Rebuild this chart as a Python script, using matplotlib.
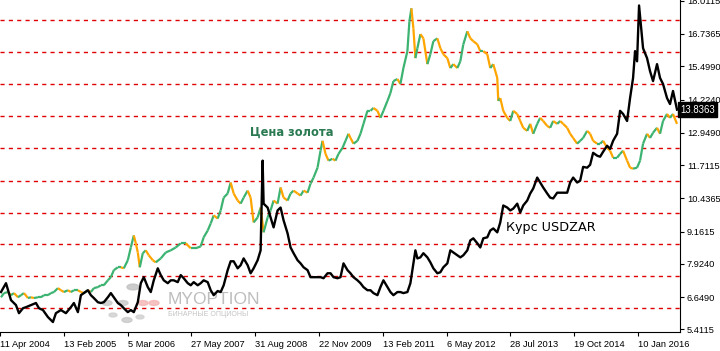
import numpy as np
import matplotlib
matplotlib.use('Agg')
import matplotlib.pyplot as plt
from matplotlib.collections import LineCollection

# Недельные бары: номер бара по оси X
usd_x = [0, 5, 10, 15, 18, 22, 25, 30, 35, 38, 42, 47, 52, 55, 60, 65, 70, 73, 77, 80,
         83, 87, 90, 93, 97, 100, 103, 107, 110, 113, 117, 120, 123, 127, 130, 133, 137, 140, 143, 147,
         150, 153, 157, 160, 163, 167, 170, 173, 177, 180, 183, 187, 190, 193, 197, 200, 203, 207, 210, 213,
         217, 220, 223, 227, 230, 233, 237, 240, 243, 247, 250, 253, 257, 260, 262, 263, 267, 270, 273, 277,
         280, 283, 287, 290, 293, 297, 300, 303, 307, 310, 313, 317, 320, 323, 327, 330, 333, 337, 340, 343,
         347, 350, 353, 357, 360, 363, 367, 370, 373, 377, 380, 383, 387, 390, 393, 397, 400, 403, 407, 410,
         413, 415, 417, 420, 423, 427, 430, 433, 437, 440, 443, 447, 450, 453, 457, 460, 463, 467, 470, 473,
         477, 480, 483, 487, 490, 493, 497, 500, 503, 507, 510, 513, 517, 520, 523, 527, 530, 533, 537, 540,
         543, 547, 550, 553, 557, 560, 563, 567, 570, 573, 577, 580, 583, 587, 590, 593, 597, 600, 603, 607,
         610, 613, 617, 620, 623, 627, 630, 633, 635, 637, 639, 643, 647, 650, 653, 657, 660, 663, 667, 670,
         673, 677]
usdzar = [6.84, 7.18, 6.53, 6.34, 6.03, 6.22, 6.26, 6.34, 6.42, 6.22, 6.15, 5.88, 5.69, 6.03, 6.15, 6.03, 6.26, 6.42, 6.07, 6.72,
          6.80, 6.91, 6.72, 6.61, 6.45, 6.42, 6.45, 6.64, 6.80, 6.64, 6.42, 6.34, 6.22, 6.07, 6.15, 6.07, 6.45, 7.18, 7.41, 7.03,
          6.84, 7.29, 7.75, 7.49, 7.29, 7.18, 7.29, 7.29, 7.22, 7.49, 7.37, 7.18, 7.10, 7.22, 7.10, 7.18, 7.29, 7.22, 6.91, 6.72,
          6.88, 6.84, 7.10, 7.68, 8.02, 8.02, 7.75, 7.87, 8.13, 7.87, 7.56, 7.75, 8.06, 8.44, 11.88, 10.23, 10.08, 9.70, 9.32, 9.97,
          10.08, 9.59, 9.09, 8.55, 8.33, 8.06, 7.94, 7.79, 7.68, 7.41, 7.41, 7.41, 7.41, 7.37, 7.56, 7.56, 7.41, 7.37, 7.41, 7.94,
          7.68, 7.56, 7.41, 7.29, 7.18, 7.03, 6.91, 6.91, 6.80, 6.72, 7.03, 7.29, 7.03, 6.84, 6.72, 6.84, 6.84, 6.80, 6.84, 7.18,
          7.94, 8.44, 8.13, 8.17, 8.33, 8.17, 7.98, 7.75, 7.56, 7.60, 7.79, 7.94, 8.44, 8.36, 8.25, 8.17, 8.25, 8.44, 8.82, 8.90,
          8.71, 8.55, 8.90, 8.94, 9.20, 9.28, 9.13, 9.51, 10.16, 10.08, 9.97, 10.04, 10.23, 9.89, 10.16, 10.35, 10.62, 10.81, 11.23, 11.04,
          10.85, 10.62, 10.46, 10.43, 10.65, 10.65, 10.65, 10.65, 11.04, 11.23, 11.04, 11.11, 11.64, 11.61, 11.72, 12.18, 12.07, 12.03, 12.22, 12.45,
          12.33, 12.64, 12.91, 13.79, 13.67, 13.40, 14.28, 15.05, 16.08, 15.69, 17.83, 16.19, 15.81, 15.31, 14.93, 15.58, 15.05, 14.82, 14.28, 14.05,
          14.55, 13.8363]

gold_x = [0, 3, 7, 10, 13, 17, 20, 23, 27, 30, 33, 37, 40, 43, 47, 50, 53, 57, 60, 63,
          67, 70, 73, 77, 80, 83, 87, 90, 93, 97, 100, 103, 107, 110, 113, 117, 120, 123, 127, 130,
          133, 135, 137, 139, 142, 145, 148, 152, 155, 160, 165, 170, 175, 180, 185, 190, 195, 200, 203, 207,
          210, 213, 217, 220, 223, 227, 230, 233, 237, 240, 243, 247, 250, 253, 257, 260, 263, 267, 270, 273,
          277, 280, 283, 287, 290, 293, 297, 300, 303, 307, 310, 313, 317, 320, 322, 325, 328, 332, 335, 338,
          342, 345, 348, 350, 353, 357, 360, 363, 367, 370, 373, 377, 380, 383, 387, 390, 393, 397, 400, 403,
          407, 409, 411, 413, 415, 417, 420, 423, 427, 430, 433, 437, 440, 443, 447, 450, 453, 457, 460, 463,
          467, 470, 473, 477, 480, 483, 487, 490, 493, 497, 498, 500, 503, 507, 510, 513, 517, 520, 523, 527,
          530, 533, 537, 540, 543, 547, 550, 553, 557, 560, 563, 567, 570, 573, 577, 580, 583, 587, 590, 593,
          597, 600, 603, 607, 610, 613, 617, 620, 623, 627, 630, 633, 637, 640, 643, 647, 650, 653, 657, 660,
          663, 667, 670, 673, 677]
gold = [6.64, 6.80, 6.84, 6.72, 6.80, 6.64, 6.72, 6.80, 6.61, 6.64, 6.61, 6.64, 6.64, 6.72, 6.72, 6.80, 6.84, 6.99, 6.91, 6.84,
        6.91, 6.84, 6.91, 6.91, 6.84, 6.80, 6.91, 6.84, 6.99, 7.03, 7.10, 7.10, 7.29, 7.41, 7.68, 7.79, 7.79, 7.75, 8.06, 8.55,
        9.01, 8.71, 8.36, 7.79, 8.33, 8.44, 8.25, 8.06, 7.98, 8.13, 8.36, 8.44, 8.55, 8.71, 8.71, 8.52, 8.52, 8.59, 8.94, 9.20,
        9.47, 9.78, 9.66, 9.97, 10.46, 10.62, 11.04, 10.62, 10.35, 10.23, 10.46, 10.73, 10.46, 9.51, 9.70, 10.08, 9.13, 9.70, 9.97, 10.35,
        10.23, 10.85, 10.46, 10.35, 10.62, 10.73, 10.62, 10.54, 10.73, 10.65, 11.00, 11.23, 11.61, 12.26, 12.64, 12.14, 11.88, 11.95, 11.88, 12.14,
        12.37, 12.64, 12.91, 12.75, 12.53, 12.64, 12.91, 13.29, 13.79, 13.79, 13.90, 13.79, 13.52, 13.79, 14.17, 14.47, 14.93, 15.01, 14.82, 15.43,
        16.08, 17.22, 17.72, 16.95, 15.81, 16.19, 16.73, 16.57, 15.58, 15.96, 16.46, 16.57, 16.19, 15.96, 15.81, 15.43, 15.58, 15.43, 15.69, 16.34,
        16.84, 16.57, 16.46, 16.34, 16.08, 16.08, 15.96, 15.43, 15.58, 15.05, 14.17, 14.28, 13.79, 13.52, 13.40, 13.79, 13.67, 13.40, 13.14, 13.02,
        13.29, 12.91, 13.29, 13.52, 13.40, 13.21, 13.14, 13.40, 13.29, 13.40, 13.29, 13.14, 12.91, 12.75, 12.53, 12.64, 12.75, 13.02, 12.91, 12.64,
        12.53, 12.53, 12.64, 12.37, 12.26, 11.99, 11.99, 12.14, 12.26, 11.88, 11.61, 11.57, 11.61, 11.88, 12.53, 12.91, 12.75, 12.95, 13.14, 12.91,
        13.40, 13.67, 13.52, 13.67, 13.29]

y_ticks = [5.4115, 6.6490, 7.9240, 9.1615, 10.4365, 11.7115, 12.9490, 14.2240, 15.4990, 16.7365, 18.0115]
grid_levels = [6.225, 7.447, 8.668, 9.890, 11.11, 12.37, 13.59, 14.81, 16.04, 17.26]
date_labels = ['11 Apr 2004', '13 Feb 2005', '5 Mar 2006', '27 May 2007', '31 Aug 2008', '22 Nov 2009',
               '13 Feb 2011', '6 May 2012', '28 Jul 2013', '19 Oct 2014', '10 Jan 2016']
last_price = 13.8363

plt.rcParams['font.family'] = ['Liberation Sans', 'DejaVu Sans']

fig = plt.figure(figsize=(7.2, 3.51), dpi=100)
ax = fig.add_axes([0, 19 / 351, 680 / 720, 332 / 351])
ax.set_xlim(0, 680)
ax.set_ylim(5.308, 18.04)

for lvl in grid_levels:
    ax.axhline(lvl, color='#e00000', linestyle=(0, (3, 3)), linewidth=1.0, zorder=1)

# логотип-водяной знак
wm = ax.transAxes
for (cx, cy, r, c) in [(107, 303, 5, '#c8c8c8'), (123, 303, 5, '#c8c8c8'), (133, 287, 6, '#c0c0c0'),
                       (113, 315, 4, '#cfcfcf'), (127, 320, 5, '#c8c8c8'), (140, 317, 4, '#cfcfcf'),
                       (143, 303, 5, '#f4b4b4'), (154, 303, 5, '#f4b4b4')]:
    ax.add_patch(plt.Circle((cx / 680, (332 - cy) / 332), r / 680, transform=wm, color=c,
                            alpha=0.8, zorder=1.5))
ax.text(168 / 680, (332 - 300) / 332, 'MYOPTION', transform=wm, fontsize=12.5, color='#bdbdbd',
        va='center', ha='left', zorder=1.5)
ax.text(168 / 680, (332 - 315) / 332, 'БИНАРНЫЕ ОПЦИОНЫ', transform=wm, fontsize=5, color='#c4c4c4',
        va='center', ha='left', zorder=1.5)

# золото: зелёный рост, оранжевый спад
pts = np.column_stack([gold_x, gold])
segs = np.stack([pts[:-1], pts[1:]], axis=1)
cols = ['#3cb371' if b >= a else '#ffa500' for a, b in zip(gold[:-1], gold[1:])]
ax.add_collection(LineCollection(segs, colors=cols, linewidths=1.6, zorder=2))

ax.plot(usd_x, usdzar, color='black', linewidth=1.7, zorder=3)

ax.text(249, 12.98, 'Цена золота', family=['DejaVu Sans'], color='#2b7a52', fontsize=8.3,
        fontweight='bold', va='center', zorder=4)
ax.text(506, 9.32, 'Курс USDZAR', family=['DejaVu Sans'], color='black', fontsize=9.2,
        va='center', zorder=4)

for s in ['left', 'top']:
    ax.spines[s].set_visible(False)
ax.spines['right'].set_color('black')
ax.spines['bottom'].set_color('black')

ax.yaxis.tick_right()
ax.set_yticks(y_ticks)
ax.set_yticklabels(['%.4f' % v for v in y_ticks])
ax.set_xticks([-1 + 63.9 * k for k in range(len(date_labels))])
ax.set_xticklabels(date_labels, ha='left')
ax.tick_params(axis='both', labelsize=6.7, length=3, width=0.8, pad=2, colors='black')
ax.tick_params(axis='x', pad=3)

ax.text(1.0, last_price, '%.4f' % last_price, transform=ax.get_yaxis_transform(), ha='left', va='center',
        fontsize=6.9, color='white', bbox=dict(boxstyle='square,pad=0.25', fc='black', ec='black'), zorder=5)

fig.savefig('out.png', dpi=100)
